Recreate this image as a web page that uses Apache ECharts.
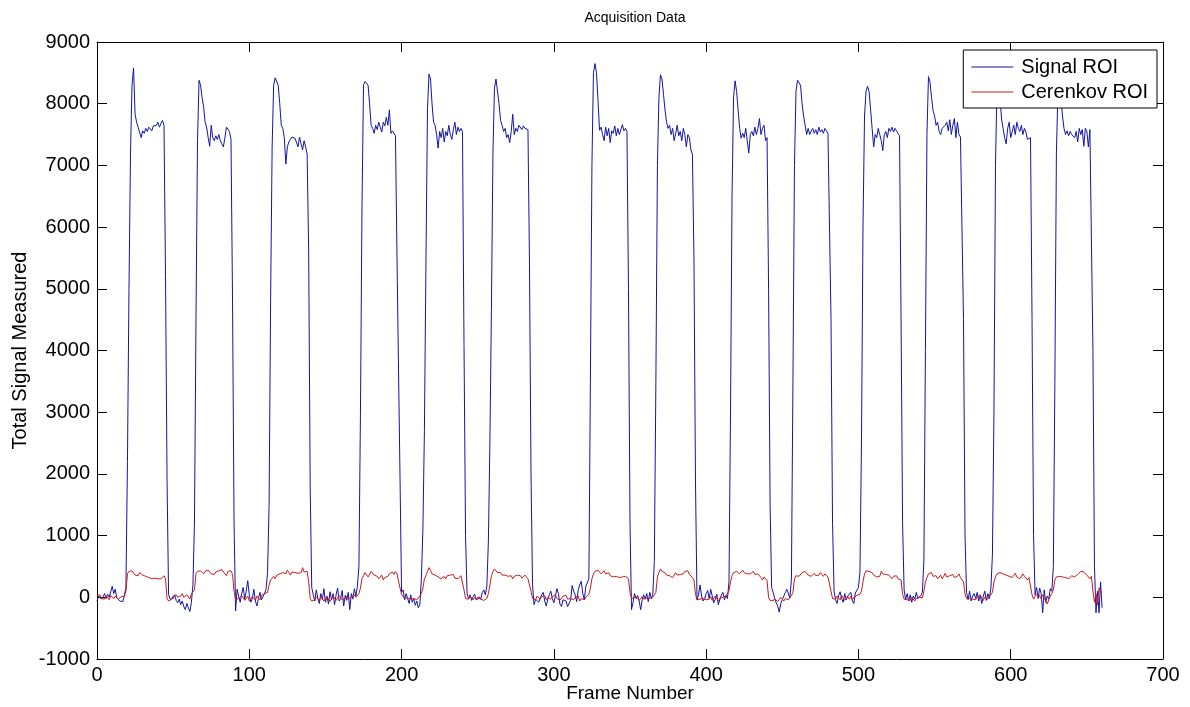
<!DOCTYPE html>
<html>
<head>
<meta charset="utf-8">
<script src="https://cdn.jsdelivr.net/npm/echarts@6/dist/echarts.min.js"></script>
<style>
html,body{margin:0;padding:0;background:#fff;}
#chart{width:1190px;height:707px;}
</style>
</head>
<body>
<div id="chart"></div>
<script>
// Frame index is the position in each array (frame 0 .. 660)
const signalROI = [
-60,20,40,-30,10,60,-20,50,0,90,
180,60,130,-10,20,-60,-80,-70,-40,150,
2200,5000,7200,8300,8580,7830,7700,7620,7600,7450,
7560,7520,7600,7550,7620,7600,7560,7640,7620,7650,
7700,7620,7680,7730,7650,5200,1900,50,-30,-60,
-20,40,-50,-90,-30,-120,-60,-150,-200,-100,
-170,-230,-80,200,1200,4500,7400,8380,8300,8100,
7950,7700,7620,7450,7310,7650,7450,7400,7480,7420,
7500,7400,7350,7300,7450,7620,7620,7550,7420,4800,
1200,-220,130,20,-80,60,160,-30,100,270,
40,-80,-20,130,-60,-140,-20,80,-40,-30,
60,130,400,1500,4800,7300,8300,8420,8440,8300,
8000,7650,7600,7450,7020,7300,7380,7420,7460,7480,
7440,7470,7300,7460,7350,7250,7400,7300,7180,5600,
1800,160,40,-60,120,-20,-100,60,-40,140,
-80,20,-110,90,-40,60,-120,40,150,-60,
-20,110,-140,30,-50,80,-200,60,-30,140,
20,180,500,3000,6300,8300,8360,8370,8300,8000,
7650,7600,7520,7650,7580,7700,7620,7540,7700,7640,
7780,7650,7900,7520,7560,7520,7480,5500,3700,1900,
80,120,-40,60,-20,-100,40,-80,-20,-130,
-60,-170,-120,300,1100,2700,5400,7900,8480,8400,
8000,7700,7650,7500,7280,7550,7450,7600,7380,7550,
7480,7650,7500,7420,7580,7700,7500,7620,7550,7600,
7550,4100,1000,60,-20,40,-50,10,50,-40,
0,30,-30,80,120,40,180,900,2500,4650,
7200,8250,8400,8380,8000,7730,7650,7550,7600,7450,
7500,7370,7550,7830,7500,7600,7550,7650,7620,7580,
7640,7600,7620,7580,5400,2000,200,-120,-30,0,
-80,-100,40,80,-60,-140,-30,40,100,-20,
-90,20,140,60,-110,-150,-40,-20,-60,-150,
-170,-50,190,100,40,-70,120,200,260,60,
-40,180,150,300,3500,7000,8500,8650,8500,8050,
7570,7620,7500,7400,7620,7480,7600,7370,7560,7520,
7640,7480,7600,7500,7580,7660,7560,7600,7550,5000,
1200,-200,-80,60,-20,30,-60,-200,-40,40,
-30,60,-70,80,-20,50,600,3500,7000,8100,
8470,8400,8150,7900,7700,7600,7650,7500,7600,7400,
7520,7650,7480,7550,7400,7600,7500,7300,7500,7450,
7250,7180,5500,1900,-40,40,200,20,-60,-20,
60,110,-20,130,20,-90,-30,50,-120,-140,
40,80,-40,30,-20,250,3000,6500,8100,8370,
8200,7900,7600,7440,7520,7450,7600,7400,7200,7500,
7550,7480,7620,7500,7600,7760,7500,7600,7650,7400,
7450,5000,1500,160,80,-20,-90,-140,-240,-100,
-40,20,80,130,160,-10,300,3500,7000,8200,
8380,8400,8300,8000,7800,7650,7500,7600,7500,7560,
7600,7520,7580,7500,7620,7540,7580,7520,7600,7560,
7520,7500,4500,1200,100,-40,-100,30,90,-20,
-80,60,-40,20,-10,80,-60,-100,70,40,
160,400,2500,6000,7800,8200,8280,8200,7900,7600,
7300,7500,7450,7600,7500,7400,7240,7500,7550,7450,
7600,7550,7620,7540,7600,7560,7520,7480,4500,1200,
120,-40,60,-60,40,-80,20,-30,80,-20,
-50,30,80,600,4000,7500,8440,8350,8100,7890,
7800,7650,7700,7550,7500,7600,7580,7650,7700,7560,
7740,7500,7650,7760,7450,7700,7500,7460,7440,4500,
1000,80,-40,100,-60,20,60,-20,80,-60,
40,-100,20,100,-50,60,-20,150,700,3000,
7000,8300,8350,8100,7750,7600,7450,7350,7600,7700,
7450,7550,7650,7500,7700,7600,7550,7650,7500,7600,
7540,7420,7450,7450,4500,1000,40,160,-20,150,
60,-250,120,-80,20,-30,140,100,500,3500,
7200,8200,8300,8100,7800,7600,7500,7560,7480,7550,
7500,7520,7450,7550,7380,7600,7500,7580,7310,7600,
7550,7300,7580,7580,4000,500,-250,100,-250,250,
-170
];
const cerenkovROI = [
30,0,40,-20,10,-30,20,-10,-40,30,
0,-20,20,-10,-30,-20,10,40,20,100,
380,420,400,430,410,360,380,350,400,380,
360,390,340,370,320,340,300,330,310,330,
300,320,300,310,350,300,-20,-60,-40,-30,
20,-10,40,0,-30,20,60,0,-20,40,
10,-30,60,30,120,380,420,390,430,410,
380,420,400,440,420,380,400,370,410,390,
430,400,450,410,380,350,420,390,430,370,
100,-40,-70,-20,0,30,-10,-50,-20,20,
-60,-30,10,-20,-50,20,0,-40,30,10,
60,40,80,200,280,300,340,300,360,330,
380,350,400,420,380,440,400,360,410,380,
400,370,390,420,400,480,410,380,420,250,
-20,-60,-80,-40,0,-30,-50,20,-10,-60,
-30,10,-20,-70,-40,20,-10,-50,-20,30,
0,-40,-60,-20,20,-30,-50,10,-20,40,
0,30,60,150,300,350,400,380,330,360,
420,400,360,380,340,300,330,360,280,320,
300,340,380,350,410,370,420,380,400,150,
50,30,-20,10,-10,20,-30,0,-20,10,
-40,-10,20,60,150,300,350,420,480,440,
380,400,360,380,330,350,300,320,340,300,
350,320,360,330,370,310,340,300,330,350,
320,120,-20,0,-30,20,-10,-40,0,-20,
-40,10,-30,-10,-50,-60,-20,60,200,350,
420,460,430,400,380,400,360,330,360,380,
340,370,350,300,340,320,360,330,350,310,
340,360,330,300,320,100,-20,0,-40,20,
-10,-30,10,-20,30,-40,0,20,-30,10,
-10,40,-20,0,-50,-20,20,-10,30,-30,
-60,-20,10,-40,0,-30,20,-60,-20,10,
-40,0,30,50,150,300,380,420,400,440,
420,380,400,430,380,360,400,350,380,330,
360,340,370,320,350,330,300,340,320,300,
80,-20,-40,0,-30,-10,-50,-20,10,-30,
-50,-10,20,-20,-40,0,30,80,330,400,
460,420,440,400,360,380,350,370,320,340,
400,360,330,370,350,380,420,400,430,370,
350,320,280,50,-40,-70,-30,-60,-20,0,
-40,-70,-30,10,-50,-30,20,-20,-60,-10,
-40,0,-30,20,40,100,250,350,400,380,
420,400,380,410,440,400,420,380,350,380,
400,420,370,340,380,360,320,280,330,300,
270,0,-50,-80,-60,-20,-50,-70,-40,0,
-30,-60,-20,10,-40,-10,30,80,300,350,
380,340,360,400,380,420,390,360,380,340,
370,390,350,380,360,400,370,340,380,360,
330,350,100,-20,0,-30,20,-10,-40,30,
0,-50,-20,10,-30,20,-40,0,-20,30,
10,50,100,250,380,430,460,420,440,400,
360,380,330,310,340,420,380,350,370,340,
360,330,300,340,320,350,300,320,280,50,
-30,-60,-40,-20,-50,0,-30,-60,-20,-40,
0,-30,-10,100,250,320,380,360,400,340,
320,350,300,330,360,300,340,390,330,300,
350,320,370,320,300,340,380,320,300,250,
50,-20,-50,-10,20,-30,0,-40,10,-20,
30,-10,-50,0,20,-30,10,40,80,250,
330,380,360,400,420,380,410,360,390,340,
370,320,350,390,330,350,300,330,380,340,
360,280,320,300,40,-30,20,-10,60,30,
-20,40,0,-60,-110,-40,20,60,120,280,
330,360,340,310,330,350,320,340,300,330,
350,360,330,350,370,400,420,440,410,380,
360,330,300,340,100,-80,60,-120,150,80,
80
];
const seriesNames = ['Signal ROI', 'Cerenkov ROI'];
const seriesColors = ['#1414a6', '#cc1a1a'];
const xTicks = [0, 700, 100];   // min, max, step
const yTicks = [-1000, 9000, 1000];

const FONT = '"Liberation Sans", Arial, Helvetica, sans-serif';
const chart = echarts.init(document.getElementById('chart'), null, {renderer: 'canvas'});

function plain(v) { return String(v); }

function baseAxisX(pos, showLabel) {
  return {
    type: 'value', position: pos, min: xTicks[0], max: xTicks[1], interval: xTicks[2],
    axisLine: {show: true, onZero: false, lineStyle: {color: '#000', width: 1}},
    axisTick: {show: true, inside: true, length: 10, lineStyle: {color: '#000'}},
    axisLabel: {show: showLabel, color: '#000', fontSize: 20, fontFamily: FONT, margin: 6,
      showMinLabel: true, showMaxLabel: true, formatter: plain},
    splitLine: {show: false}
  };
}
function baseAxisY(pos, showLabel) {
  return {
    type: 'value', position: pos, min: yTicks[0], max: yTicks[1], interval: yTicks[2],
    axisLine: {show: true, onZero: false, lineStyle: {color: '#000', width: 1}},
    axisTick: {show: true, inside: true, length: 10, lineStyle: {color: '#000'}},
    axisLabel: {show: showLabel, color: '#000', fontSize: 20, fontFamily: FONT, margin: 7,
      showMinLabel: true, showMaxLabel: true, formatter: plain},
    splitLine: {show: false}
  };
}

const xBottom = Object.assign(baseAxisX('bottom', true), {
  name: 'Frame Number', nameLocation: 'middle', nameGap: 25, nameMoveOverlap: false,
  nameTextStyle: {color: '#000', fontSize: 19, fontFamily: FONT}
});
const yLeft = Object.assign(baseAxisY('left', true), {
  name: 'Total Signal Measured', nameLocation: 'middle', nameGap: 67, nameMoveOverlap: false,
  nameTextStyle: {color: '#000', fontSize: 20, fontFamily: FONT}
});

const option = {
  animation: false,
  backgroundColor: '#fff',
  title: {
    text: 'Acquisition Data', left: 630, top: 6, textAlign: 'center',
    textStyle: {color: '#000', fontSize: 14, fontWeight: 'normal', fontFamily: FONT}
  },
  legend: {
    orient: 'vertical', right: 33, top: 50,
    data: seriesNames,
    icon: 'rect',
    backgroundColor: '#fff', borderColor: '#000', borderWidth: 1, borderRadius: 0,
    padding: [7, 9, 6, 8], itemGap: 5, itemWidth: 42, itemHeight: 1,
    textStyle: {color: '#000', fontSize: 20, fontFamily: FONT, padding: [0, 0, 0, 3]}
  },
  grid: {left: 97, right: 27, top: 42, bottom: 48, containLabel: false, outerBoundsMode: 'none'},
  xAxis: [xBottom, baseAxisX('top', false)],
  yAxis: [yLeft, baseAxisY('right', false)],
  series: [
    {
      name: seriesNames[0], type: 'line', xAxisIndex: 0, yAxisIndex: 0,
      data: signalROI.map((v, i) => [i, v]),
      symbol: 'none', showSymbol: false,
      lineStyle: {color: seriesColors[0], width: 1}, itemStyle: {color: seriesColors[0]}
    },
    {
      name: seriesNames[1], type: 'line', xAxisIndex: 0, yAxisIndex: 0,
      data: cerenkovROI.map((v, i) => [i, v]),
      symbol: 'none', showSymbol: false,
      lineStyle: {color: seriesColors[1], width: 1}, itemStyle: {color: seriesColors[1]}
    }
  ]
};
chart.setOption(option);
</script>
</body>
</html>
